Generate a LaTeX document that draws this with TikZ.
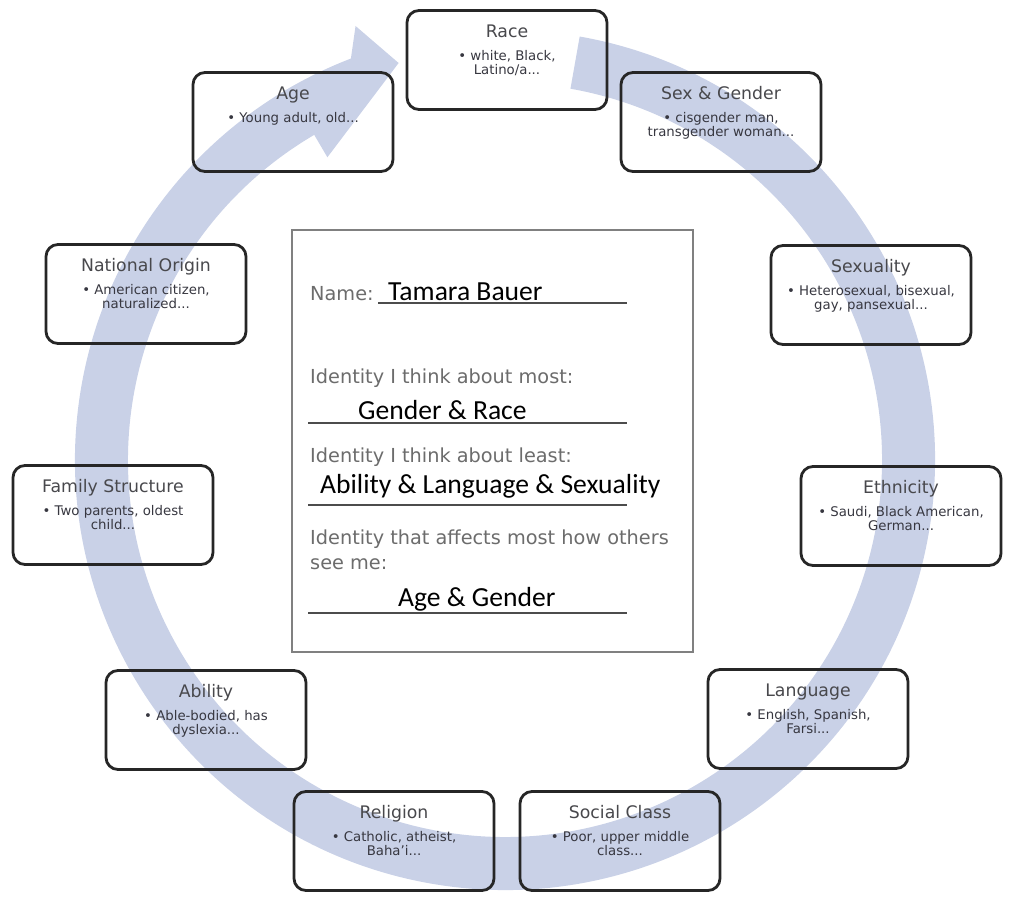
\documentclass[tikz,border=0pt]{standalone}
\usepackage{fontspec}
\setmainfont{DejaVu Sans}
\newfontfamily\fillfont{Carlito}
\usetikzlibrary{calc}
\definecolor{bandc}{RGB}{201,209,231}
\definecolor{boxline}{RGB}{38,38,38}
\definecolor{titlegray}{RGB}{72,72,76}
\definecolor{bodygray}{RGB}{55,55,64}
\definecolor{labelgray}{RGB}{108,108,108}
\definecolor{centerline}{RGB}{128,128,128}
\tikzset{
  idbox/.style={draw=boxline, line width=2.8pt, rounded corners=12pt,
    minimum width=200pt, minimum height=99pt, inner sep=0pt},
  idtitle/.style={anchor=base, inner sep=0pt, text=titlegray,
    font=\fontsize{17.3}{20}\selectfont},
  idline/.style={anchor=base, inner sep=0pt, text=bodygray,
    font=\fontsize{13.3}{15}\selectfont},
  lbl/.style={anchor=base west, inner sep=0pt, text=labelgray,
    font=\fontsize{19.3}{22}\selectfont},
  answer/.style={anchor=base west, inner sep=0pt, text=black,
    font=\fillfont\fontsize{27.6}{31}\selectfont},
  uline/.style={line width=1.4pt, draw=black!70},
  centerbox/.style={draw=centerline, line width=2.6pt, fill=white,
    minimum width=401pt, minimum height=422pt, inner sep=0pt},
}
\newcommand{\identitybox}[5]{%
  \node[idbox] (#1) at (#2) {};
  \node[idtitle] (#1-title) at ($(#1.north)+(0,-28)$) {#3};
  \node[idline] (#1-l1) at ($(#1.north)+(0,-51)$) {#4};
  \node[idline] (#1-l2) at ($(#1.north)+(0,-65)$) {#5};
}
\begin{document}
\begin{tikzpicture}[x=1pt,y=1pt]
\useasboundingbox (0,0) rectangle (1009,898);
\coordinate (O) at (505,438);
% circular arrow band
\fill[bandc] ($(O)+(80:430)$) arc[start angle=80,end angle=-249,radius=430]
  -- ($(O)+(109:459)$) -- ($(O)+(105:411)$) -- ($(O)+(120.4:351)$)
  -- ($(O)+(120.4:377)$) arc[start angle=120.4,end angle=440,radius=377] -- cycle;

% identity boxes
\identitybox{race}{507,838}{Race}{• white, Black,}{Latino/a...}
\identitybox{sexgender}{721,776}{Sex \& Gender}{• cisgender man,}{transgender woman...}
\identitybox{age}{293,776}{Age}{• Young adult, old...}{}
\identitybox{natorigin}{146,604}{National Origin}{• American citizen,}{naturalized...}
\identitybox{family}{113,383}{Family Structure}{• Two parents, oldest}{child...}
\identitybox{sexuality}{871,603}{Sexuality}{• Heterosexual, bisexual,}{gay, pansexual...}
\identitybox{ethnicity}{901,382}{Ethnicity}{• Saudi, Black American,}{German...}
\identitybox{ability}{206,178}{Ability}{• Able-bodied, has}{dyslexia...}
\identitybox{religion}{394,57}{Religion}{• Catholic, atheist,}{Baha'i...}
\identitybox{social}{620,57}{Social Class}{• Poor, upper middle}{class...}
\identitybox{language}{808,179}{Language}{• English, Spanish,}{Farsi...}

% centre worksheet
\node[centerbox] (sheet) at (492.5,457) {};
\node[lbl] (name-l) at (310,597) {Name:};
\node[answer] (name-a) at (388,597) {Tamara Bauer};
\coordinate (u1a) at (378,595); \coordinate (u1b) at (627,595);
\draw[uline] (u1a) -- (u1b);

\node[lbl] (most-l) at (310,514) {Identity I think about most:};
\node[answer] (most-a) at (358,478) {Gender \& Race};
\coordinate (u2a) at (308,475); \coordinate (u2b) at (627,475);
\draw[uline] (u2a) -- (u2b);

\node[lbl] (least-l) at (310,435) {Identity I think about least:};
\node[answer] (least-a) at (320,404) {Ability \& Language \& Sexuality};
\coordinate (u3a) at (308,393); \coordinate (u3b) at (627,393);
\draw[uline] (u3a) -- (u3b);

\node[lbl] (others-l1) at (310,354) {Identity that affects most how others};
\node[lbl] (others-l2) at (310,329) {see me:};
\node[answer] (others-a) at (398,292) {Age \& Gender};
\coordinate (u4a) at (308,285); \coordinate (u4b) at (627,285);
\draw[uline] (u4a) -- (u4b);
\end{tikzpicture}
\end{document}
